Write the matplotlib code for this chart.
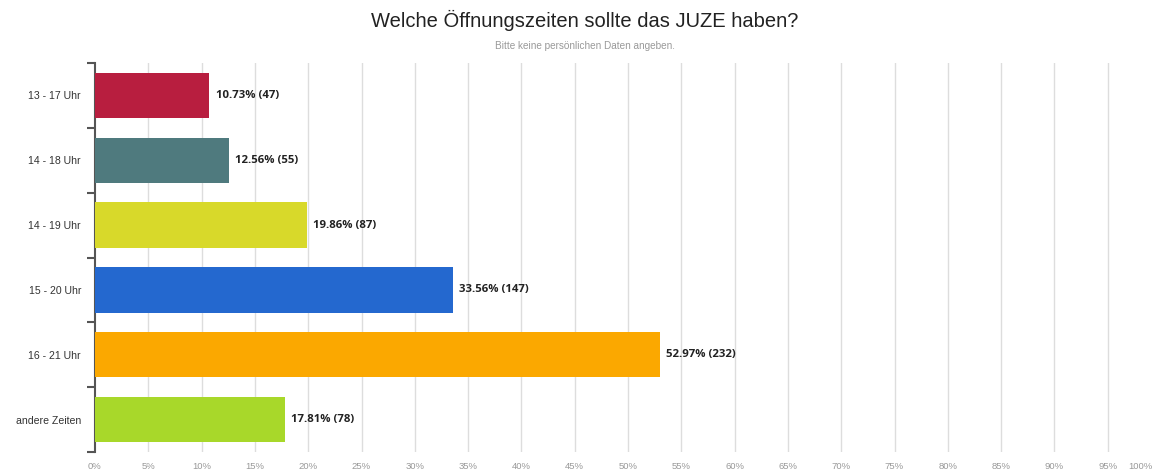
import matplotlib
matplotlib.use("Agg")
import matplotlib.pyplot as plt
import matplotlib.transforms as mtransforms
import numpy as np

categories = ["13 - 17 Uhr", "14 - 18 Uhr", "14 - 19 Uhr", "15 - 20 Uhr", "16 - 21 Uhr", "andere Zeiten"]
percentages = [10.73, 12.56, 19.86, 33.56, 52.97, 17.81]
counts = [47, 55, 87, 147, 232, 78]
colors = ["#b81e3f", "#4f7a7e", "#d8d92a", "#2468cf", "#fba800", "#a8d82a"]
xticks = list(range(0, 101, 5))

fig = plt.figure(figsize=(11.6, 4.73), dpi=100)
ax = fig.add_axes([95/1160, 21/473, 1066/1160, 389/473])

y = np.arange(len(categories))
ax.barh(y, percentages, height=0.7, color=colors, zorder=3)
for yi, p, c in zip(y, percentages, counts):
    ax.text(p + 0.6, yi, f"{p:.2f}% ({c})", va="center", ha="left",
            fontsize=8.2, fontweight="bold", color="#222222", family="Open Sans", zorder=4)

ax.set_xlim(0, 100)
ax.set_ylim(len(categories) - 0.5, -0.5)
ax.set_xticks(xticks)
ax.set_xticklabels([f"{t}%" for t in xticks], fontsize=6.8, color="#999999", family="Liberation Sans")
ax.tick_params(axis="x", length=0, pad=7)
last = ax.get_xticklabels()[-1]
last.set_transform(last.get_transform() + mtransforms.ScaledTranslation(-21/100, 0, fig.dpi_scale_trans))
ax.set_yticks(y)
ax.set_yticklabels(categories, fontsize=7.6, color="#333333", family="Liberation Sans")
ax.tick_params(axis="y", which="major", length=0, pad=10)
ax.set_yticks(np.arange(-0.5, len(categories)), minor=True)
ax.tick_params(axis="y", which="minor", length=6, width=1.5, color="#555555", direction="out")

for t in xticks[1:-1]:
    ax.axvline(t, color="#dddddd", lw=1, zorder=1)

for s in ["top", "right", "bottom"]:
    ax.spines[s].set_visible(False)
ax.spines["left"].set_color("#555555")
ax.spines["left"].set_linewidth(1.5)

fig.text(585/1160, 1 - 20/473, "Welche Öffnungszeiten sollte das JUZE haben?", ha="center", va="center",
         fontsize=14.5, color="#222222", family="Liberation Sans")
fig.text(585/1160, 1 - 46/473, "Bitte keine persönlichen Daten angeben.", ha="center", va="center",
         fontsize=7.2, color="#999999", family="Liberation Sans")

fig.savefig("out.png", dpi=100, facecolor="white")
